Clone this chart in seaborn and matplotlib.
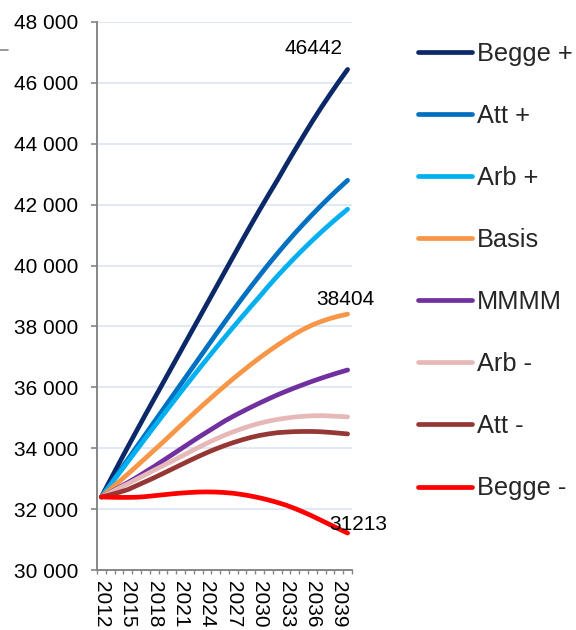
import matplotlib
matplotlib.use("Agg")
import matplotlib.pyplot as plt
from matplotlib.lines import Line2D
from matplotlib.ticker import FixedLocator, FuncFormatter
import seaborn as sns
import pandas as pd

years = list(range(2012, 2041))

begge_pluss = [32400, 32950, 33500, 34040, 34570, 35100, 35620, 36140, 36660, 37180,
               37700, 38220, 38740, 39260, 39780, 40300, 40820, 41330, 41830, 42320,
               42800, 43300, 43790, 44270, 44740, 45190, 45620, 46040, 46442]
att_pluss = [32400, 32810, 33220, 33630, 34040, 34450, 34860, 35270, 35680, 36090,
             36500, 36910, 37320, 37730, 38135, 38535, 38925, 39305, 39675, 40040,
             40390, 40730, 41060, 41375, 41680, 41975, 42260, 42535, 42800]
arb_pluss = [32400, 32785, 33170, 33555, 33940, 34325, 34705, 35085, 35460, 35835,
             36205, 36570, 36930, 37285, 37635, 37980, 38320, 38655, 38985, 39325,
             39650, 39960, 40260, 40550, 40830, 41100, 41360, 41610, 41850]
basis = [32400, 32650, 32900, 33150, 33410, 33670, 33935, 34200, 34470, 34740,
         35010, 35275, 35535, 35790, 36040, 36285, 36520, 36750, 36970, 37180,
         37380, 37570, 37750, 37910, 38050, 38165, 38260, 38340, 38404]
mmmm = [32400, 32550, 32710, 32870, 33040, 33220, 33400, 33590, 33780, 33970,
        34160, 34350, 34530, 34710, 34890, 35050, 35200, 35345, 35485, 35620,
        35750, 35870, 35985, 36095, 36200, 36300, 36395, 36485, 36570]
arb_minus = [32400, 32540, 32690, 32830, 32980, 33130, 33280, 33425, 33570, 33720,
             33870, 34020, 34165, 34300, 34425, 34540, 34645, 34740, 34820, 34890,
             34945, 34990, 35025, 35050, 35065, 35070, 35060, 35045, 35030]
att_minus = [32400, 32470, 32550, 32640, 32770, 32900, 33030, 33170, 33310, 33450,
             33590, 33725, 33855, 33975, 34085, 34185, 34275, 34355, 34420, 34470,
             34510, 34530, 34545, 34550, 34550, 34540, 34520, 34495, 34470]
begge_minus = [32400, 32390, 32385, 32385, 32390, 32410, 32440, 32470, 32500, 32525,
               32545, 32560, 32565, 32560, 32545, 32520, 32480, 32430, 32370, 32300,
               32220, 32130, 32020, 31900, 31770, 31630, 31490, 31350, 31213]

series_names = ["Begge +", "Att +", "Arb +", "Basis", "MMMM", "Arb -", "Att -", "Begge -"]
series_values = [begge_pluss, att_pluss, arb_pluss, basis, mmmm, arb_minus, att_minus, begge_minus]
colors = ["#0B2868", "#0070C0", "#00B0F0", "#F79646", "#7030A0", "#E6B9B8", "#953735", "#FF0000"]

labelled = ["Begge +", "Basis", "Begge -"]
label_offsets = {"Begge +": (-34, 15), "Basis": (-2, 9), "Begge -": (11, 3)}

y_ticks = list(range(30000, 48001, 2000))
x_label_years = list(range(2012, 2040, 3))

frames = [pd.DataFrame({"year": years, "value": vals, "scenario": name})
          for name, vals in zip(series_names, series_values)]
df = pd.concat(frames, ignore_index=True)

sns.set_style("white")
plt.rcParams["font.family"] = ["Liberation Sans", "DejaVu Sans"]

fig = plt.figure(figsize=(5.76, 6.3), dpi=100)
ax = fig.add_axes([97 / 576, 1 - 570 / 630, 255 / 576, 548 / 630])

sns.lineplot(data=df, x="year", y="value", hue="scenario", hue_order=series_names,
             palette=colors, linewidth=3.4, legend=False, ax=ax,
             solid_capstyle="round", solid_joinstyle="round")

ax.set_xlim(2011.5, 2040.5)
ax.set_ylim(30000, 48000)
ax.set_xlabel("")
ax.set_ylabel("")

ax.yaxis.set_major_locator(FixedLocator(y_ticks))
ax.yaxis.set_major_formatter(FuncFormatter(lambda v, p: f"{v:,.0f}".replace(",", " ")))
ax.xaxis.set_major_locator(FixedLocator(x_label_years))
ax.xaxis.set_minor_locator(FixedLocator([y - 0.5 for y in years] + [2040.5]))
ax.xaxis.set_major_formatter(FuncFormatter(lambda v, p: f"{int(v)}"))

ax.grid(axis="y", color="#DCE6F2", linewidth=1.2)
ax.grid(axis="x", visible=False)
ax.set_axisbelow(True)

gray = "#868686"
for side in ["top", "right"]:
    ax.spines[side].set_visible(False)
for side in ["left", "bottom"]:
    ax.spines[side].set_color(gray)
    ax.spines[side].set_linewidth(1.4)

ax.tick_params(axis="y", which="major", direction="out", length=4.5, width=1.2,
               color=gray, pad=9, labelsize=15, labelcolor="black", left=True)
ax.tick_params(axis="x", which="major", length=0, pad=8, labelsize=15,
               labelrotation=270, labelcolor="black", bottom=True)
ax.tick_params(axis="x", which="minor", direction="out", length=3, width=1.0,
               color=gray, bottom=True)
for lbl in ax.get_xticklabels():
    lbl.set_verticalalignment("top")
    lbl.set_horizontalalignment("center")

for name, vals in zip(series_names, series_values):
    if name in labelled:
        ax.annotate(f"{vals[-1]}", xy=(years[-1], vals[-1]), xytext=label_offsets[name],
                    textcoords="offset pixels", ha="center", va="baseline",
                    fontsize=15, color="black", annotation_clip=False)

handles = [Line2D([0], [0], color=c, linewidth=3.4, solid_capstyle="round") for c in colors]
fig.legend(handles, series_names, loc="upper left", bbox_to_anchor=(418 / 576, 0.934),
           bbox_transform=fig.transFigure, frameon=False, fontsize=18.3,
           handlelength=2.12, handletextpad=0.2, labelspacing=1.5,
           borderpad=0, borderaxespad=0)

fig.add_artist(Line2D([0, 8 / 576], [1 - 50 / 630, 1 - 50 / 630],
                      transform=fig.transFigure, color=gray, linewidth=1.2))

fig.savefig("out.png", dpi=100)
